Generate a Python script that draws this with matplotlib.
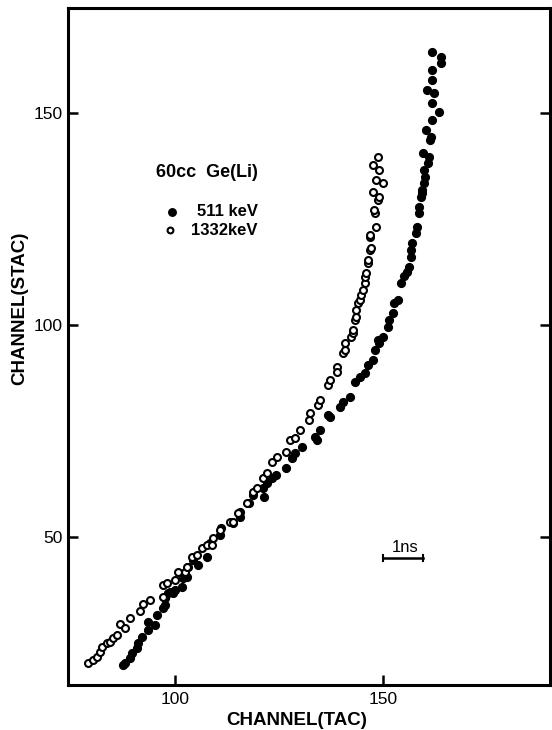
"""
STAC vs TAC channel calibration, 60cc Ge(Li), 511 keV and 1332 keV.
Saves out.png
"""
import matplotlib.pyplot as plt

INK = "black"

plt.rcParams.update({
    "font.family": "Liberation Sans",
    "axes.linewidth": 2.2,
})

# ---- 1332 keV (open circles) ----
tac_1332 = [79.2, 80.4, 81.3, 82.1, 82.5, 83.7, 84.4, 85.2, 86.1, 86.8,
            88.0, 89.2, 91.6, 92.3, 94.0, 97.1, 97.1, 98.1, 100.0, 100.7,
            102.4, 102.9, 104.1, 105.3, 106.5, 107.7, 108.9, 109.1, 110.8, 113.2,
            113.9, 115.1, 117.2, 118.7, 119.6, 121.1, 122.2, 123.4, 124.4, 126.6,
            127.5, 128.9, 129.9, 132.1, 132.3, 134.4, 134.7, 136.8, 137.1, 138.8,
            139.0, 140.2, 140.7, 140.9, 142.3, 142.6, 142.6, 143.1, 143.5, 143.5,
            144.0, 144.3, 144.7, 145.0, 145.7, 145.7, 145.9, 146.2, 146.2, 146.9,
            147.1, 146.9, 146.7, 148.3, 148.1, 147.8, 148.8, 149.0, 147.4, 149.8,
            148.3, 149.0, 147.4, 148.6]
stac_1332 = [20.3, 21.0, 21.7, 22.9, 24.1, 25.0, 25.2, 26.2, 26.9, 29.5,
             28.5, 30.9, 32.5, 34.2, 35.1, 38.7, 35.8, 39.2, 39.9, 41.7,
             41.7, 42.9, 45.3, 45.8, 47.4, 48.1, 48.1, 49.8, 51.7, 53.5,
             53.5, 55.7, 58.0, 60.6, 61.6, 63.9, 65.1, 67.7, 68.9, 70.0,
             72.9, 73.3, 75.2, 77.6, 79.2, 81.1, 82.3, 85.8, 87.0, 90.1,
             88.9, 93.4, 94.1, 95.8, 97.2, 98.1, 98.8, 101.2, 101.9, 103.5,
             105.2, 105.9, 107.1, 108.3, 109.9, 111.3, 112.3, 114.6, 115.3, 117.7,
             118.2, 120.8, 121.2, 123.1, 126.4, 127.1, 129.5, 130.2, 131.4, 133.5,
             134.2, 136.6, 137.7, 139.6]

# ---- 511 keV (filled circles) ----
tac_511 = [87.6, 88.0, 89.2, 89.7, 90.9, 91.1, 92.1, 93.5, 93.5, 95.2,
           95.7, 97.1, 97.6, 97.6, 98.3, 98.8, 99.5, 100.0, 101.7, 101.9,
           102.9, 103.1, 104.3, 105.5, 107.7, 108.4, 110.8, 111.2, 113.9, 115.6,
           115.6, 117.9, 118.7, 121.1, 121.5, 122.0, 123.4, 124.2, 126.6, 128.2,
           128.9, 130.6, 133.7, 134.0, 134.7, 136.8, 137.1, 139.5, 140.2, 141.9,
           143.3, 144.3, 145.5, 146.4, 147.4, 148.1, 148.6, 149.0, 149.8, 151.2,
           151.4, 152.2, 152.6, 153.6, 154.3, 154.9, 155.7, 156.2, 156.7, 156.7,
           156.9, 157.7, 158.1, 158.6, 158.6, 159.1, 159.3, 159.3, 159.8, 160.0,
           159.8, 160.8, 161.0, 159.6, 161.2, 161.5, 160.3, 161.7, 163.4, 161.7,
           162.2, 160.5, 161.7, 161.7, 163.9, 163.9, 161.7]
stac_511 = [19.8, 20.3, 21.5, 22.6, 23.8, 25.0, 26.4, 28.1, 30.0, 29.2,
            31.6, 33.3, 34.0, 35.6, 36.8, 37.0, 36.8, 37.5, 38.2, 40.3,
            40.6, 42.9, 44.6, 43.4, 45.3, 48.6, 50.5, 52.1, 53.3, 54.7,
            55.9, 58.0, 59.9, 61.6, 59.4, 62.7, 63.9, 64.6, 66.3, 68.6,
            69.8, 71.2, 73.6, 72.9, 75.2, 78.8, 78.3, 80.7, 81.8, 83.0,
            86.6, 87.7, 88.7, 90.6, 91.7, 94.1, 96.5, 95.8, 97.2, 99.5,
            101.2, 102.8, 105.2, 105.9, 109.9, 111.5, 112.5, 113.7, 116.0, 117.7,
            119.3, 121.7, 123.1, 126.4, 127.8, 130.2, 131.1, 131.8, 133.5, 134.9,
            136.6, 138.2, 139.6, 140.6, 143.6, 144.3, 146.0, 148.3, 150.2, 152.4,
            154.7, 155.4, 157.8, 160.1, 161.8, 163.2, 164.4]

xticks = [100, 150]
yticks = [50, 100, 150]

fig = plt.figure(figsize=(5.52, 7.30), dpi=100)
ax = fig.add_axes([0.123, 0.062, 0.874, 0.927])

ax.plot(tac_511, stac_511, "o", ms=5.6, mfc=INK, mec=INK, ls="none", zorder=3)
ax.plot(tac_1332, stac_1332, "o", ms=5.0, mfc="white", mec=INK, mew=1.5,
        ls="none", zorder=4)

ax.set_xlim(74.4, 190.0)
ax.set_ylim(15.1, 174.8)
ax.set_xticks(xticks)
ax.set_yticks(yticks)
ax.tick_params(direction="in", length=7, width=1.8, labelsize=12.5,
               right=True, top=False)
ax.tick_params(axis="x", pad=5)
ax.tick_params(axis="y", pad=4)

ax.set_xlabel("CHANNEL(TAC)", fontsize=13.5, fontweight="bold")
ax.set_ylabel("CHANNEL(STAC)", fontsize=13.5, fontweight="bold")
ax.xaxis.set_label_coords(0.475, -0.04)
ax.yaxis.set_label_coords(-0.083, 0.557)

# legend block
ax.text(119.9, 136.1, "60cc  Ge(Li)", fontsize=13, fontweight="bold",
        ha="right", va="center")
ax.plot([99.3], [126.7], "o", ms=5.4, mfc=INK, mec=INK)
ax.plot([98.8], [122.4], "o", ms=4.2, mfc="white", mec=INK, mew=1.5)
ax.text(119.9, 126.7, "511 keV", fontsize=12, fontweight="bold",
        ha="right", va="center")
ax.text(119.9, 122.4, "1332keV", fontsize=12, fontweight="bold",
        ha="right", va="center")

# 1 ns scale bar
ax.plot([150.0, 159.6], [45.0, 45.0], color=INK, lw=1.8)
ax.plot([150.0, 150.0], [44.4, 45.6], color=INK, lw=1.5)
ax.plot([159.6, 159.6], [44.4, 45.6], color=INK, lw=1.5)
ax.text(155.3, 45.6, "1ns", fontsize=12, ha="center", va="bottom")

plt.savefig("out.png", dpi=100)
plt.close()
